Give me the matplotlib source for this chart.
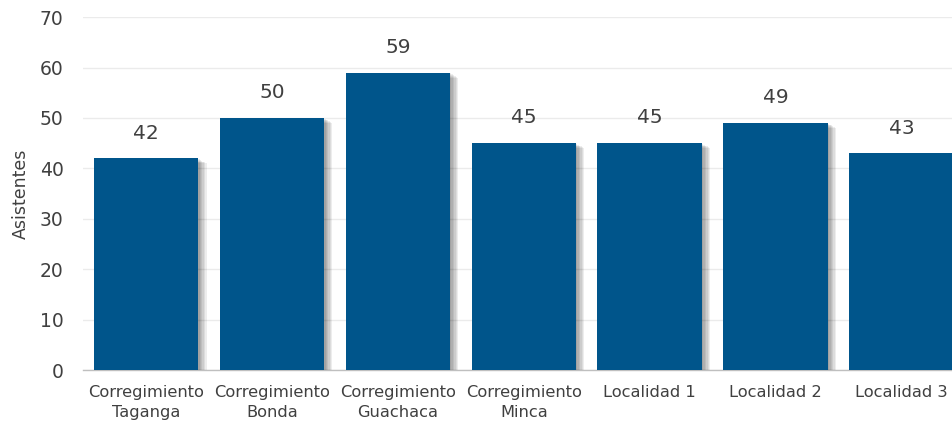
import matplotlib
matplotlib.use('Agg')
import matplotlib.pyplot as plt
import matplotlib.patheffects as pe

plt.rcParams['font.family'] = ['DejaVu Sans']

# Data
categories = ['Corregimiento\nTaganga', 'Corregimiento\nBonda', 'Corregimiento\nGuachaca',
              'Corregimiento\nMinca', 'Localidad 1', 'Localidad 2', 'Localidad 3']
asistentes = [42, 50, 59, 45, 45, 49, 43]
yticks = [0, 10, 20, 30, 40, 50, 60, 70]

bar_color = '#00558B'
text_color = '#404040'

fig = plt.figure(figsize=(9.53, 4.28), dpi=100)
ax = fig.add_axes([0.0871, 0.1355, 0.925, 0.8245])

# soft shadow faked with a few offset layers
shadow = [pe.SimplePatchShadow(offset=(d, -d * 0.6), shadow_rgbFace='black', alpha=0.07)
          for d in (1, 2, 3, 4, 5, 6)]
bars = ax.bar(range(len(categories)), asistentes, width=0.83, color=bar_color,
              zorder=3, path_effects=shadow + [pe.Normal()])

for i, v in enumerate(asistentes):
    ax.text(i, v + 5, str(v), ha='center', va='center', fontsize=14.5, color=text_color)

ax.set_xlim(-0.5, len(categories) - 0.5)
ax.set_ylim(0, 70)
ax.set_yticks(yticks)
ax.set_xticks(range(len(categories)))
ax.set_xticklabels(categories, fontsize=11.7, color=text_color, linespacing=1.4)
ax.tick_params(axis='y', labelsize=13.5, colors=text_color, length=0, pad=14)
ax.tick_params(axis='x', length=0, pad=11)
ax.set_ylabel('Asistentes', fontsize=12.5, color=text_color, labelpad=7)

ax.yaxis.grid(True, color='#EBEBEB', linewidth=1, zorder=0)
ax.set_axisbelow(True)
for s in ['top', 'right', 'left']:
    ax.spines[s].set_visible(False)
ax.spines['bottom'].set_color('#BFBFBF')
ax.spines['bottom'].set_linewidth(1)

fig.savefig('out.png', dpi=100)
